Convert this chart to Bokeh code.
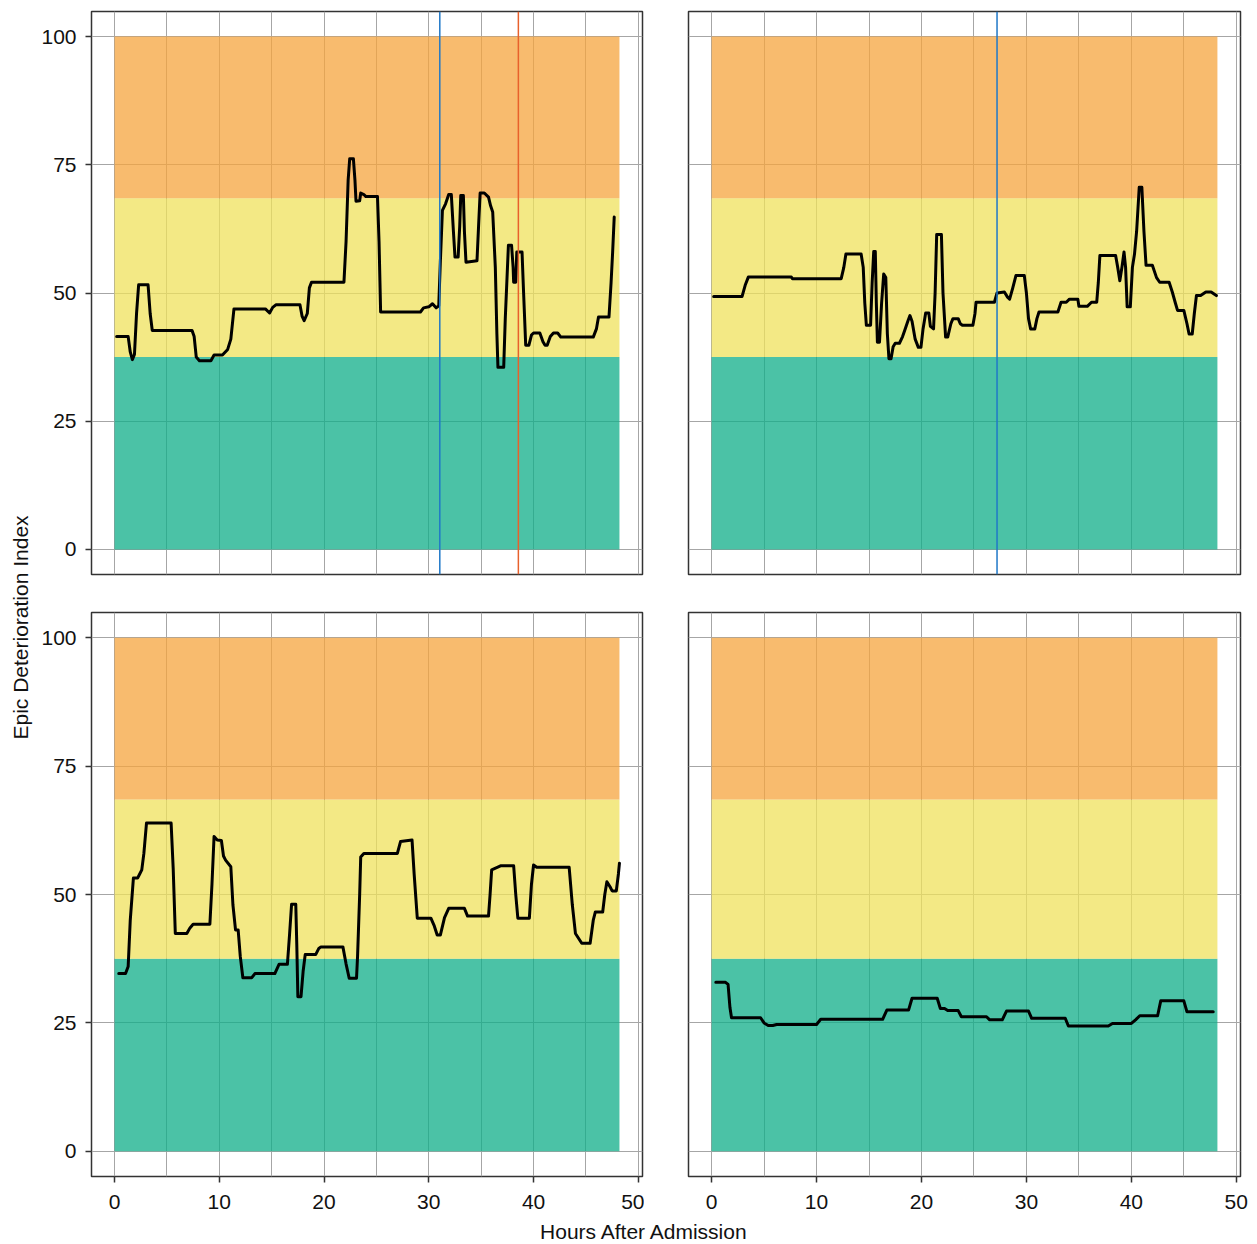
import math
from bokeh.plotting import figure
from bokeh.layouts import row, column
from bokeh.models import Range1d, LinearAxis, FixedTicker, Span, Label
from bokeh.embed import file_html
from bokeh.resources import INLINE

FONT = "Liberation Sans"

# ---- bands (risk zones) ----
band_bottom = [0, 37.5, 68.5]
band_top = [37.5, 68.5, 100]
band_colors = ["#0fae88", "#efe25c", "#f6a43e"]
band_left = 0
band_right = 48.2

x_ticks = [0, 10, 20, 30, 40, 50]
x_grid = [0, 5, 10, 15, 20, 25, 30, 35, 40, 45, 50]
y_ticks = [0, 25, 50, 75, 100]

# ---- series ----
tl_x = [0.2, 1.3, 1.5, 1.7, 1.9, 2.1, 2.3, 3.2, 3.4, 3.6, 7.4, 7.6, 7.8, 8.1, 9.2, 9.5, 10.3, 10.8, 11.1, 11.4,
        14.4, 14.8, 15.1, 15.4, 17.7, 17.9, 18.1, 18.4, 18.6, 18.8, 21.9, 22.1, 22.3, 22.45, 22.8, 22.95, 23.05,
        23.4, 23.5, 23.8, 24.0, 25.1, 25.25, 25.4, 29.2, 29.5, 30.0, 30.35, 30.7, 30.95, 31.1, 31.3, 31.6, 31.9,
        32.15, 32.35, 32.5, 32.8, 32.95, 33.05, 33.3, 33.4, 33.55, 34.6, 34.75, 34.9, 35.3, 35.7, 35.9, 36.1,
        36.35, 36.5, 36.6, 37.15, 37.3, 37.6, 37.9, 38.05, 38.1, 38.3, 38.4, 38.9, 39.05, 39.25, 39.55, 39.8,
        40.0, 40.6, 40.9, 41.1, 41.3, 41.6, 41.9, 42.3, 42.6, 45.7, 46.0, 46.2, 47.2, 47.4, 47.55, 47.7]
tl_y = [41.5, 41.5, 38.5, 37.0, 38.0, 46.0, 51.6, 51.6, 46.0, 42.7, 42.7, 41.5, 37.5, 36.8, 36.8, 37.9, 37.9, 39.0, 41.0, 46.9,
        46.9, 46.1, 47.2, 47.7, 47.7, 45.5, 44.6, 46.0, 51.0, 52.1, 52.1, 60.0, 72.0, 76.2, 76.2, 72.0, 67.9,
        68.0, 69.5, 69.2, 68.8, 68.8, 60.0, 46.3, 46.3, 47.1, 47.3, 47.9, 47.1, 47.5, 56.0, 66.1, 67.4, 69.2,
        69.2, 62.0, 57.0, 57.0, 63.0, 69.0, 69.0, 62.0, 56.0, 56.3, 63.0, 69.5, 69.5, 68.7, 67.0, 65.8,
        55.0, 42.0, 35.5, 35.5, 45.0, 59.3, 59.3, 55.0, 52.1, 52.1, 58.0, 58.0, 50.0, 39.8, 39.8, 41.8,
        42.2, 42.2, 40.5, 39.8, 39.8, 41.5, 42.2, 42.2, 41.4, 41.4, 43.0, 45.3, 45.3, 52.0, 58.0, 64.8]

tr_x = [0.2, 2.9, 3.2, 3.5, 7.6, 7.7, 12.35, 12.6, 12.8, 14.25, 14.45, 14.6, 14.75, 15.15, 15.3, 15.45, 15.6, 15.7,
        15.8, 16.0, 16.2, 16.4, 16.6, 16.75, 16.9, 17.1, 17.3, 17.5, 17.9, 18.2, 18.4, 18.7, 18.9, 19.1, 19.4,
        19.7, 19.95, 20.15, 20.4, 20.7, 20.85, 21.15, 21.3, 21.45, 21.9, 22.05, 22.3, 22.5, 22.8, 23.0, 23.5,
        23.7, 23.9, 24.9, 25.1, 25.2, 26.95, 27.2, 27.9, 28.2, 28.4, 28.7, 29.0, 29.8, 30.0, 30.2, 30.4, 30.8,
        31.0, 31.2, 33.0, 33.3, 33.8, 34.1, 34.9, 35.0, 35.8, 36.2, 36.7, 36.85, 37.0, 38.5, 38.7, 38.9, 39.1,
        39.3, 39.45, 39.6, 39.9, 40.1, 40.3, 40.5, 40.75, 41.0, 41.2, 41.4, 42.0, 42.4, 42.7, 43.6, 43.9, 44.2,
        44.4, 45.0, 45.3, 45.5, 45.8, 46.0, 46.2, 46.6, 47.1, 47.6, 48.1]
tr_y = [49.3, 49.3, 51.5, 53.1, 53.1, 52.8, 52.8, 55.0, 57.6, 57.6, 55.0, 48.0, 43.7, 43.7, 52.0, 58.1, 58.1, 48.0,
        40.4, 40.4, 48.0, 53.7, 53.0, 42.0, 37.2, 37.2, 39.5, 40.2, 40.2, 41.5, 42.7, 44.5, 45.6, 44.5, 41.0,
        39.4, 39.4, 43.0, 46.1, 46.1, 43.5, 43.0, 50.0, 61.4, 61.4, 50.0, 41.4, 41.4, 44.0, 45.0, 45.0,
        44.0, 43.7, 43.7, 46.0, 48.2, 48.2, 50.0, 50.2, 49.2, 48.8, 51.0, 53.4, 53.4, 50.0, 45.0, 43.0, 43.0,
        45.0, 46.3, 46.3, 48.2, 48.2, 48.8, 48.8, 47.4, 47.4, 48.2, 48.2, 52.0, 57.3, 57.3, 55.0, 52.4, 55.0,
        58.0, 55.0, 47.3, 47.3, 55.0, 57.6, 62.0, 70.6, 70.6, 62.0, 55.4, 55.4, 53.0, 52.1, 52.1, 50.2, 48.0,
        46.6, 46.6, 44.0, 42.0, 42.0, 46.0, 49.5, 49.5, 50.2, 50.2, 49.5]

bl_x = [0.4, 1.05, 1.3, 1.5, 1.8, 2.2, 2.4, 2.6, 2.8, 3.05, 5.4, 5.6, 5.8, 6.9, 7.2, 7.5, 9.1, 9.3, 9.5, 9.8,
        10.2, 10.4, 10.6, 11.1, 11.3, 11.55, 11.8, 12.0, 12.25, 13.1, 13.4, 15.3, 15.7, 16.5, 16.7, 16.9, 17.3,
        17.4, 17.5, 17.8, 18.0, 18.2, 19.2, 19.5, 19.7, 21.8, 22.1, 22.4, 23.1, 23.2, 23.4, 23.5, 23.8, 27.0,
        27.3, 28.4, 28.6, 28.9, 30.2, 30.5, 30.8, 31.1, 31.5, 31.9, 33.4, 33.7, 35.7, 35.85, 36.0, 36.9, 38.1,
        38.3, 38.5, 39.6, 39.8, 40.0, 40.3, 43.4, 43.7, 44.0, 44.6, 45.4, 45.7, 45.9, 46.6, 46.8, 47.0, 47.3,
        47.5, 47.9, 48.1, 48.2]
bl_y = [34.6, 34.6, 36.0, 45.0, 53.2, 53.2, 54.0, 54.8, 58.0, 63.9, 63.9, 55.0, 42.4, 42.4, 43.5, 44.2, 44.2, 52.0, 61.3, 60.6,
        60.5, 57.5, 56.7, 55.4, 48.0, 43.1, 43.1, 38.0, 33.8, 33.8, 34.6, 34.6, 36.4, 36.4, 42.0, 48.1, 48.1,
        40.0, 30.1, 30.1, 35.0, 38.3, 38.3, 39.5, 39.8, 39.8, 36.5, 33.7, 33.7, 38.0, 50.0, 57.3, 58.0, 58.0,
        60.3, 60.6, 54.0, 45.4, 45.4, 44.0, 42.1, 42.1, 45.5, 47.3, 47.3, 45.8, 45.8, 50.0, 54.8, 55.6, 55.6,
        50.0, 45.4, 45.4, 52.0, 55.75, 55.3, 55.3, 48.0, 42.4, 40.5, 40.5, 45.0, 46.6, 46.6, 50.0, 52.5, 51.5,
        50.7, 50.7, 54.0, 56.1]

br_x = [0.4, 1.33, 1.57, 1.75, 1.9, 4.67, 5.0, 5.4, 5.83, 6.2, 10.0, 10.4, 16.3, 16.7, 18.77, 19.1, 21.5, 21.8,
        22.2, 22.5, 23.5, 23.8, 26.2, 26.5, 27.7, 28.1, 30.2, 30.5, 33.7, 34.0, 37.8, 38.2, 40.0, 40.4, 40.8,
        42.5, 42.8, 45.0, 45.3, 47.8]
br_y = [32.9, 32.9, 32.5, 28.0, 26.0, 26.0, 25.0, 24.5, 24.5, 24.7, 24.7, 25.7, 25.7, 27.5, 27.5, 29.8, 29.8, 27.8,
        27.8, 27.4, 27.4, 26.2, 26.2, 25.6, 25.6, 27.3, 27.3, 25.9, 25.9, 24.4, 24.4, 24.9, 24.9, 25.6, 26.4,
        26.4, 29.3, 29.3, 27.15, 27.15]

# event markers (hours) per panel
tl_events = [31.05, 38.55]
tl_event_colors = ["#1f78c8", "#e8612c"]
tr_events = [27.2]
tr_event_colors = ["#1f78c8"]

TEXT_COLOR = "#111111"
FRAME_COLOR = "#333333"
FS = "21px"


def style_axis(ax, ticks, standoff):
    ax.ticker = FixedTicker(ticks=ticks)
    ax.axis_line_color = None
    ax.major_tick_line_color = FRAME_COLOR
    ax.major_tick_line_width = 1.5
    ax.major_tick_out = 6
    ax.major_tick_in = 0
    ax.minor_tick_line_color = None
    ax.major_label_text_font = FONT
    ax.major_label_text_font_size = FS
    ax.major_label_text_color = TEXT_COLOR
    ax.major_label_standoff = standoff


def panel(xs, ys, events, ev_colors, left_axis, bottom_axis, width, height, mb):
    p = figure(width=width, height=height, x_range=Range1d(-2.2, 50.4), y_range=Range1d(-4.9, 104.9),
               toolbar_location=None, output_backend="svg", x_axis_location=None, y_axis_location=None,
               min_border_left=mb[0], min_border_right=mb[1], min_border_top=mb[2], min_border_bottom=mb[3])
    p.outline_line_color = FRAME_COLOR
    p.outline_line_width = 1.5
    p.background_fill_color = "white"
    p.border_fill_color = "white"
    p.xgrid.ticker = FixedTicker(ticks=x_grid)
    p.ygrid.ticker = FixedTicker(ticks=y_ticks)
    for g in (p.xgrid, p.ygrid):
        g.grid_line_color = "#a6a6a6"
        g.grid_line_width = 1
    p.quad(left=[band_left] * 3, right=[band_right] * 3, bottom=band_bottom, top=band_top,
           fill_color=band_colors, fill_alpha=0.75, line_color=None)
    for loc, c in zip(events, ev_colors):
        p.add_layout(Span(location=loc, dimension="height", line_color=c, line_width=1.5))
    p.line(xs, ys, line_color="black", line_width=3, line_join="round", line_cap="round")
    if left_axis:
        ax = LinearAxis()
        style_axis(ax, y_ticks, 9)
        p.add_layout(ax, "left")
    if bottom_axis:
        ax = LinearAxis()
        style_axis(ax, x_ticks, 12)
        p.add_layout(ax, "below")
    return p


tl = panel(tl_x, tl_y, tl_events, tl_event_colors, True, False, 606, 576, (52, 2, 11, 2))
tr = panel(tr_x, tr_y, tr_events, tr_event_colors, False, False, 608, 576, (44, 12, 11, 2))
bl = panel(bl_x, bl_y, [], [], True, True, 606, 640, (52, 2, 36, 40))
br = panel(br_x, br_y, [], [], False, True, 608, 640, (44, 12, 36, 40))

ytitle = figure(width=38, height=1242, x_range=Range1d(0, 1), y_range=Range1d(0, 1),
                toolbar_location=None, output_backend="svg", x_axis_location=None, y_axis_location=None,
                min_border=0)
ytitle.outline_line_color = None
ytitle.grid.visible = False
ytitle.add_layout(Label(x=20, y=615, x_units="screen", y_units="screen", text="Epic Deterioration Index",
                        angle=math.pi / 2, text_align="center", text_baseline="middle",
                        text_font=FONT, text_font_size=FS, text_color=TEXT_COLOR))

xtitle = figure(width=1214, height=26, x_range=Range1d(0, 1), y_range=Range1d(0, 1),
                toolbar_location=None, output_backend="svg", x_axis_location=None, y_axis_location=None,
                min_border=0)
xtitle.outline_line_color = None
xtitle.grid.visible = False
xtitle.add_layout(Label(x=606, y=0, x_units="screen", y_units="screen", text="Hours After Admission",
                        text_align="center", text_baseline="bottom",
                        text_font=FONT, text_font_size=FS, text_color=TEXT_COLOR))

layout = row(ytitle, column(row(tl, tr), row(bl, br), xtitle))

open("out.html", "w").write(file_html(layout, INLINE))
